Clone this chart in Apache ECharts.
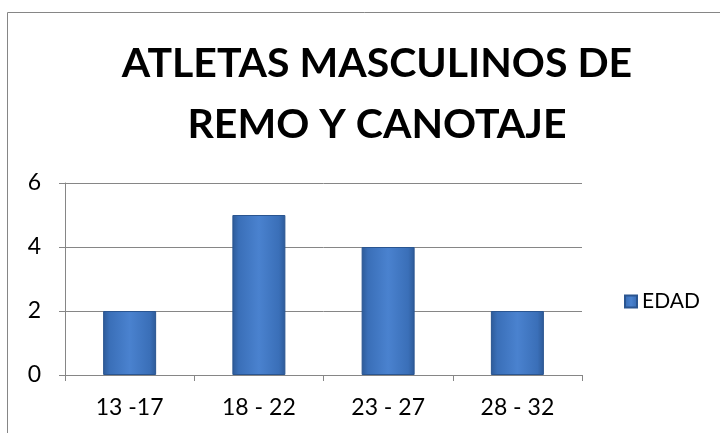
<!DOCTYPE html>
<html><head><meta charset="utf-8">
<script src="https://cdn.jsdelivr.net/npm/echarts@6/dist/echarts.min.js"></script>
<style>html,body{margin:0;padding:0;background:#fff}#c{width:720px;height:433px}</style>
</head><body><div id="c"></div>
<script>
const categories = ['13 -17', '18 - 22', '23 - 27', '28 - 32'];
const edadValues = [2, 5, 4, 2];
const seriesName = 'EDAD';
const titleLines = ['ATLETAS MASCULINOS DE', 'REMO Y CANOTAJE'];

const chart = echarts.init(document.getElementById('c'));
const barGrad = new echarts.graphic.LinearGradient(0, 0, 1, 0, [
  {offset: 0, color: '#2d5a98'},
  {offset: 0.12, color: '#3a6fb8'},
  {offset: 0.5, color: '#4a82cf'},
  {offset: 0.88, color: '#3a6fb8'},
  {offset: 1, color: '#2d5a98'}
]);
chart.setOption({
  animation: false,
  graphic: [{type: 'rect', shape: {x: 7.5, y: 12.5, width: 720, height: 430}, style: {fill: 'none', stroke: '#868686', lineWidth: 1}}],
  title: {
    text: titleLines.join('\n'),
    left: 372, top: 28, textAlign: 'center',
    textStyle: {fontFamily: 'Lato', fontWeight: 'bold', fontSize: 41, lineHeight: 61, color: '#000'}
  },
  legend: {
    data: [seriesName], left: 619, top: 286, orient: 'vertical',
    icon: 'rect', itemWidth: 12, itemHeight: 12, itemGap: 8,
    textStyle: {fontFamily: 'Lato', fontSize: 21, color: '#000'}
  },
  grid: {left: 65, right: 138, top: 183, bottom: 58},
  xAxis: {
    type: 'category', data: categories,
    axisLine: {lineStyle: {color: '#868686'}},
    axisTick: {show: true, length: 6, alignWithLabel: false, lineStyle: {color: '#868686'}},
    axisLabel: {fontFamily: 'Lato', fontSize: 23, color: '#000', margin: 21}
  },
  yAxis: {
    type: 'value', min: 0, max: 6, interval: 2,
    axisLine: {show: true, lineStyle: {color: '#868686'}},
    axisTick: {show: true, length: 6, lineStyle: {color: '#868686'}},
    splitLine: {lineStyle: {color: '#868686'}},
    axisLabel: {fontFamily: 'Lato', fontSize: 23, color: '#000', margin: 24}
  },
  series: [{
    name: seriesName, type: 'bar', data: edadValues, barWidth: 53,
    itemStyle: {color: barGrad, borderColor: '#2a5590', borderWidth: 1}
  }]
});
</script></body></html>
